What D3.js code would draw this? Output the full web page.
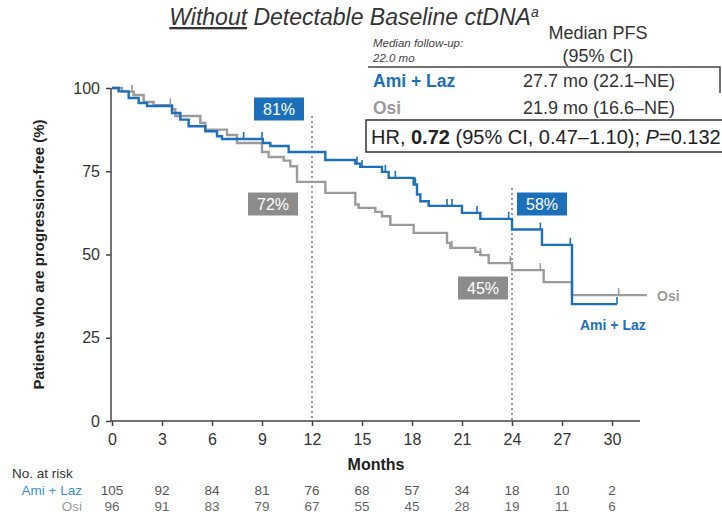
<!DOCTYPE html>
<html>
<head>
<meta charset="utf-8">
<script src="https://cdn.jsdelivr.net/npm/d3@7"></script>
<style>
  html, body { margin: 0; padding: 0; background: #fff; }
  svg { display: block; font-family: "Liberation Sans", Arial, sans-serif; }
</style>
</head>
<body>
<svg id="chart" width="722" height="518"></svg>
<script>
// Kaplan–Meier step points: [month, % progression-free]
const amiSteps = [
  [0, 100], [0.4, 99], [1.0, 97], [1.6, 95.5], [2.1, 94.6], [3.6, 92.5], [4.1, 90.5],
  [4.6, 88.5], [5.6, 87], [6.3, 85.5], [6.6, 84.7], [9.05, 83.5], [9.5, 82.6],
  [10.6, 80.8], [12.8, 78.4], [14.6, 77.3], [14.9, 76.3], [16.2, 74.8], [16.6, 73.0],
  [18.1, 71], [18.3, 68], [18.5, 66], [19.0, 64.6], [21.0, 62.5], [22.1, 60.7],
  [24.0, 57.5], [25.8, 52.9], [27.6, 35.1]
];
const amiEnd = 30.3;
const amiCensored = [7.9, 9.0, 14.7, 15.0, 16.4, 17.0, 18.2, 20.1, 20.4, 21.9, 22.1, 23.8, 25.7, 27.5, 30.3];

const osiSteps = [
  [0, 100], [0.6, 98.9], [1.3, 97.9], [1.9, 95.8], [2.5, 94.8], [3.6, 93.6], [3.8, 91.6],
  [5.3, 89.5], [5.6, 87.5], [6.9, 85.9], [7.5, 83.5], [9.0, 80.8], [9.4, 79.3],
  [10.3, 78.2], [10.7, 76.5], [11.1, 71.8], [12.8, 68.5], [14.6, 65], [14.8, 64],
  [15.8, 62.8], [16.2, 61.5], [16.7, 58.9], [18.1, 56.5], [20.1, 53.5], [20.3, 52],
  [21.8, 50.8], [22.1, 49.8], [22.6, 47.4], [24.0, 45.3], [25.9, 41.7], [27.6, 37.8]
];
const osiEnd = 32.1;
const osiCensored = [1.2, 3.5, 16.7, 20.4, 22.1, 23.9, 25.7, 27.6, 30.4];

// Milestone landmarks
const landmarkMonths = [12, 24];
const amiLandmarks = [81, 58];
const osiLandmarks = [72, 45];

// Axis ticks and numbers at risk
const monthTicks = [0, 3, 6, 9, 12, 15, 18, 21, 24, 27, 30];
const pctTicks = [0, 25, 50, 75, 100];
const amiAtRisk = [105, 92, 84, 81, 76, 68, 57, 34, 18, 10, 2];
const osiAtRisk = [96, 91, 83, 79, 67, 55, 45, 28, 19, 11, 6];

const BLUE = "#1c6fba";
const GRAY = "#9b9b9b";
const BOX_GRAY = "#8c8c8c";
const TEXT = "#333";

const svg = d3.select("#chart");

const x = d3.scaleLinear().domain([0, 30]).range([112, 612]);
const y = d3.scaleLinear().domain([0, 100]).range([421, 88]);

// Title
const title = svg.append("text")
  .attr("x", 354).attr("y", 25)
  .attr("text-anchor", "middle")
  .attr("font-size", 23).attr("font-style", "italic")
  .attr("fill", TEXT);
title.append("tspan").attr("text-decoration", "underline").text("Without");
title.append("tspan").text(" Detectable Baseline ctDNA");
title.append("tspan").attr("font-size", 14).attr("dy", -8).text("a");

// Axes
const yAxis = d3.axisLeft(y).tickValues(pctTicks).tickSize(5).tickPadding(6);
const gy = svg.append("g").attr("transform", `translate(${x(0) - 1},0)`).call(yAxis);
gy.select(".domain").attr("stroke", "#444").attr("stroke-width", 1.5)
  .attr("d", `M0,${y(0)}V${y(100)}`);
gy.selectAll(".tick line").attr("stroke", "#444").attr("stroke-width", 1.5);
gy.selectAll(".tick text").attr("font-size", 16).attr("fill", TEXT)
  .attr("font-family", "Liberation Sans, Arial, sans-serif");

const xAxis = d3.axisBottom(x).tickValues(monthTicks).tickSize(5).tickPadding(8);
const gx = svg.append("g").attr("transform", `translate(0,${y(0)})`).call(xAxis);
gx.select(".domain").attr("stroke", "#444").attr("stroke-width", 1.5)
  .attr("d", `M${x(0) - 1},0H640`);
gx.selectAll(".tick line").attr("stroke", "#444").attr("stroke-width", 1.5);
gx.selectAll(".tick text").attr("font-size", 16).attr("fill", TEXT)
  .attr("font-family", "Liberation Sans, Arial, sans-serif");

svg.append("text")
  .attr("x", 376).attr("y", 470)
  .attr("text-anchor", "middle")
  .attr("font-size", 16).attr("font-weight", "bold").attr("fill", "#222")
  .text("Months");

svg.append("text")
  .attr("transform", `translate(44,${y(50)}) rotate(-90)`)
  .attr("text-anchor", "middle")
  .attr("font-size", 15).attr("font-weight", "bold").attr("fill", "#222")
  .text("Patients who are progression-free (%)");

// Landmark reference lines
svg.selectAll(".landmark")
  .data(landmarkMonths)
  .enter().append("line")
  .attr("x1", d => x(d)).attr("x2", d => x(d))
  .attr("y1", (d, i) => i === 0 ? 116 : 188)
  .attr("y2", y(0))
  .attr("stroke", "#555").attr("stroke-width", 1.2)
  .attr("stroke-dasharray", "2,3");

// Survival curves
function stepLine(steps, end) {
  const pts = steps.slice();
  pts.push([end, steps[steps.length - 1][1]]);
  return d3.line().x(d => x(d[0])).y(d => y(d[1])).curve(d3.curveStepAfter)(pts);
}
function survAt(steps, t) {
  let s = steps[0][1];
  for (const [m, v] of steps) { if (m <= t) s = v; }
  return s;
}

function drawArm(steps, end, censored, color) {
  svg.append("path")
    .attr("d", stepLine(steps, end))
    .attr("fill", "none").attr("stroke", color).attr("stroke-width", 2.4);
  svg.append("g").selectAll("line")
    .data(censored)
    .enter().append("line")
    .attr("x1", d => x(d)).attr("x2", d => x(d))
    .attr("y1", d => y(survAt(steps, d)))
    .attr("y2", d => y(survAt(steps, d)) - 7)
    .attr("stroke", color).attr("stroke-width", 1.6);
}
drawArm(osiSteps, osiEnd, osiCensored, GRAY);
drawArm(amiSteps, amiEnd, amiCensored, BLUE);

// Landmark value boxes
function valueBox(cx, cy, value, fill) {
  const w = 50, h = 23;
  svg.append("rect")
    .attr("x", cx - w / 2).attr("y", cy - h / 2)
    .attr("width", w).attr("height", h).attr("fill", fill);
  svg.append("text")
    .attr("x", cx).attr("y", cy + 6)
    .attr("text-anchor", "middle")
    .attr("font-size", 16).attr("fill", "#fff")
    .text(value + "%");
}
valueBox(x(landmarkMonths[0]) - 33, 109, amiLandmarks[0], BLUE);
valueBox(x(landmarkMonths[0]) - 39, 204, osiLandmarks[0], BOX_GRAY);
valueBox(x(landmarkMonths[1]) + 30, 204, amiLandmarks[1], BLUE);
valueBox(x(landmarkMonths[1]) - 29, 288, osiLandmarks[1], BOX_GRAY);

// Curve end labels
svg.append("text").attr("x", 657).attr("y", 301)
  .attr("font-size", 14).attr("font-weight", "bold").attr("fill", GRAY).text("Osi");
svg.append("text").attr("x", 580).attr("y", 330)
  .attr("font-size", 14).attr("font-weight", "bold").attr("fill", BLUE).text("Ami + Laz");

// Median PFS table
svg.append("text").attr("x", 373).attr("y", 47)
  .attr("font-size", 11.5).attr("font-style", "italic").attr("fill", "#444")
  .text("Median follow-up:");
svg.append("text").attr("x", 373).attr("y", 62)
  .attr("font-size", 11.5).attr("font-style", "italic").attr("fill", "#444")
  .text("22.0 mo");
svg.append("text").attr("x", 598).attr("y", 39)
  .attr("text-anchor", "middle").attr("font-size", 18).attr("fill", TEXT)
  .text("Median PFS");
svg.append("text").attr("x", 598).attr("y", 62)
  .attr("text-anchor", "middle").attr("font-size", 18).attr("fill", TEXT)
  .text("(95% CI)");
svg.append("path").attr("d", "M368,67H720V93")
  .attr("fill", "none").attr("stroke", "#444").attr("stroke-width", 1.5);

svg.append("text").attr("x", 373).attr("y", 87)
  .attr("font-size", 17.5).attr("font-weight", "bold").attr("fill", BLUE).text("Ami + Laz");
svg.append("text").attr("x", 523).attr("y", 87)
  .attr("font-size", 18).attr("fill", TEXT).text("27.7 mo (22.1–NE)");
svg.append("text").attr("x", 373).attr("y", 114)
  .attr("font-size", 17.5).attr("font-weight", "bold").attr("fill", GRAY).text("Osi");
svg.append("text").attr("x", 523).attr("y", 114)
  .attr("font-size", 18).attr("fill", TEXT).text("21.9 mo (16.6–NE)");

svg.append("rect").attr("x", 366).attr("y", 120).attr("width", 362).attr("height", 32)
  .attr("fill", "#fff").attr("stroke", "#333").attr("stroke-width", 1.5);
const hr = svg.append("text").attr("x", 371).attr("y", 144)
  .attr("font-size", 20).attr("fill", "#222");
hr.append("tspan").text("HR, ");
hr.append("tspan").attr("font-weight", "bold").text("0.72");
hr.append("tspan").text(" (95% CI, 0.47–1.10); ");
hr.append("tspan").attr("font-style", "italic").text("P");
hr.append("tspan").text("=0.132");

// Number at risk table
svg.append("text").attr("x", 12).attr("y", 478)
  .attr("font-size", 13.5).attr("fill", TEXT).text("No. at risk");
svg.append("text").attr("x", 82).attr("y", 495)
  .attr("text-anchor", "end").attr("font-size", 13.5).attr("fill", "#3a8fd0").text("Ami + Laz");
svg.append("text").attr("x", 82).attr("y", 511)
  .attr("text-anchor", "end").attr("font-size", 13.5).attr("fill", GRAY).text("Osi");

svg.append("g").selectAll("text")
  .data(amiAtRisk)
  .enter().append("text")
  .attr("x", (d, i) => x(monthTicks[i])).attr("y", 495)
  .attr("text-anchor", "middle").attr("font-size", 13.5).attr("fill", "#555")
  .text(d => d);
svg.append("g").selectAll("text")
  .data(osiAtRisk)
  .enter().append("text")
  .attr("x", (d, i) => x(monthTicks[i])).attr("y", 511)
  .attr("text-anchor", "middle").attr("font-size", 13.5).attr("fill", "#666")
  .text(d => d);
</script>
</body>
</html>
